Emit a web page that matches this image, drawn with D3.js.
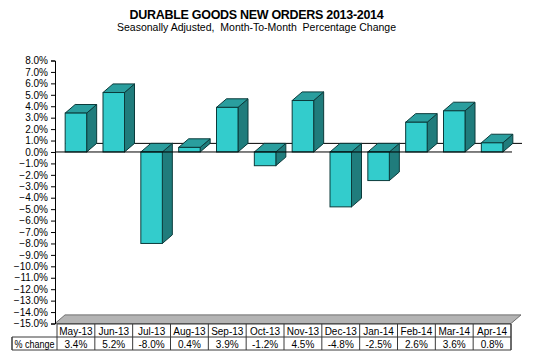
<!DOCTYPE html>
<html><head><meta charset="utf-8">
<script src="https://cdn.jsdelivr.net/npm/d3@7"></script>
<style>body{margin:0;background:#fff}svg{display:block}text{font-family:"Liberation Sans",Arial,sans-serif}</style>
</head><body>
<svg id="c" width="535" height="358"></svg>
<script>
const categories = ["May-13","Jun-13","Jul-13","Aug-13","Sep-13","Oct-13","Nov-13","Dec-13","Jan-14","Feb-14","Mar-14","Apr-14"];
const values = [3.4,5.2,-8.0,0.4,3.9,-1.2,4.5,-4.8,-2.5,2.6,3.6,0.8];
const valueLabels = ["3.4%","5.2%","-8.0%","0.4%","3.9%","-1.2%","4.5%","-4.8%","-2.5%","2.6%","3.6%","0.8%"];
const yTicks = d3.range(-15, 8.5, 1);
const rowLabel = "% change";
const title = "DURABLE GOODS NEW ORDERS 2013-2014";
const subtitle = "Seasonally Adjusted,  Month-To-Month  Percentage Change";

const svg = d3.select("#c");
const axisX = 55, left = 57, right = 511;
const dx = 10, dy = -8.6;
const x = d3.scaleBand().domain(categories).range([left, right]);
const y = d3.scaleLinear().domain([-15, 8]).range([323.5, 60.5]);
const bw = 21.5;

// titles
svg.append("text").attr("x", 256.5).attr("y", 19).attr("text-anchor","middle")
  .attr("font-size", 12.5).attr("font-weight","bold").attr("letter-spacing","-0.3").text(title);
svg.append("text").attr("x", 256.5).attr("y", 31).attr("text-anchor","middle")
  .attr("font-size", 10.5).attr("xml:space","preserve").style("white-space","pre").text(subtitle);

// floor
const fy = y(-15);
svg.append("path").attr("d", `M${axisX},${fy} L${right},${fy} L${right+dx},${fy+dy} L${axisX+dx},${fy+dy} Z`)
  .attr("fill","#b4b4b4").attr("stroke","#6e6e6e").attr("stroke-width",1);

// back zero line
const y0 = y(0);
svg.append("line").attr("x1", axisX+dx).attr("x2", right+dx+1).attr("y1", y0+dy).attr("y2", y0+dy)
  .attr("stroke","#000").attr("stroke-width",1);

// bars
const g = svg.append("g");
categories.forEach((c, i) => {
  const v = values[i];
  const cx = x(c) + x.bandwidth()/2;
  const x0 = cx - bw/2, x1 = cx + bw/2;
  const yt = y(Math.max(v,0)), yb = y(Math.min(v,0));
  const stroke = "#0b3b3b";
  g.append("path").attr("d", `M${x1},${yt} L${x1+dx},${yt+dy} L${x1+dx},${yb+dy} L${x1},${yb} Z`)
    .attr("fill","#207c7c").attr("stroke",stroke).attr("stroke-width",1).attr("stroke-linejoin","round");
  g.append("path").attr("d", `M${x0},${yt} L${x0+dx},${yt+dy} L${x1+dx},${yt+dy} L${x1},${yt} Z`)
    .attr("fill","#2a9e9e").attr("stroke",stroke).attr("stroke-width",1).attr("stroke-linejoin","round");
  g.append("rect").attr("x", x0).attr("y", yt).attr("width", bw).attr("height", yb-yt)
    .attr("fill","#33cccc").attr("stroke",stroke).attr("stroke-width",1);
});

// front zero line
svg.append("line").attr("x1", axisX).attr("x2", right+1).attr("y1", y0).attr("y2", y0)
  .attr("stroke","#000").attr("stroke-width",1);

// y axis
const ax = svg.append("g").attr("transform", `translate(${axisX},0)`)
  .call(d3.axisLeft(y).tickValues(yTicks).tickSize(4).tickPadding(3).tickFormat(d => d3.format(".1f")(d) + "%"));
ax.select(".domain").attr("stroke","#000");
ax.selectAll(".tick line").attr("stroke","#000");
ax.selectAll("text").attr("font-size", 10).attr("fill","#000").style("font-family",'"Liberation Sans",Arial,sans-serif');

// data table
const t1 = y(-15) + 0.5, t2 = t1 + 13, t3 = t2 + 13;
const tb = svg.append("g").attr("stroke","#3a3a3a").attr("stroke-width",1).attr("fill","none");
tb.append("path").attr("d", `M${left},${t1} H${right} V${t3} H12 V${t2} H${right} M${left},${t1} V${t3} M12,${t2} V${t3}`);
categories.forEach((c, i) => {
  tb.append("line").attr("x1", x(c)+x.bandwidth()).attr("x2", x(c)+x.bandwidth()).attr("y1", t1).attr("y2", t3);
});
const tt = svg.append("g").attr("font-size", 10).attr("text-anchor","middle").attr("fill","#000");
categories.forEach((c, i) => {
  const cx = x(c) + x.bandwidth()/2;
  tt.append("text").attr("x", cx).attr("y", t1 + 10.5).text(c);
  tt.append("text").attr("x", cx).attr("y", t2 + 10.5).text(valueLabels[i]);
});
tt.append("text").attr("x", (12+left)/2).attr("y", t2 + 10.5)
  .attr("textLength", 40).attr("lengthAdjust","spacingAndGlyphs").text(rowLabel);
</script>
</body></html>
